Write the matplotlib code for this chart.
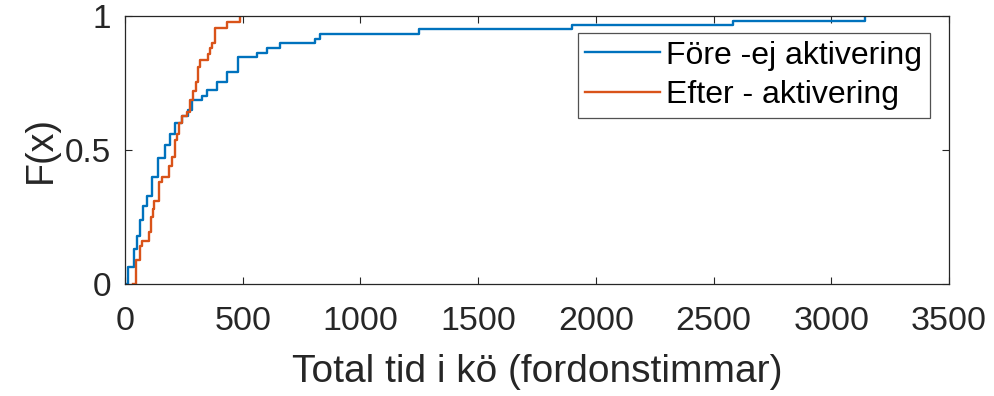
import matplotlib
matplotlib.use("Agg")
import matplotlib.pyplot as plt

plt.rcParams['font.family'] = ['Liberation Sans', 'DejaVu Sans']

fore_x = [4, 14, 38, 49, 64, 78, 92, 113, 141, 170, 191, 212, 241, 268, 283, 326, 347,
          390, 432, 481, 559, 605, 658, 807, 828, 1250, 1898, 2583, 3144]
fore_F = [0, 0.065, 0.13, 0.18, 0.24, 0.29, 0.33, 0.40, 0.47, 0.52, 0.56, 0.60, 0.625,
          0.65, 0.686, 0.70, 0.724, 0.755, 0.79, 0.846, 0.862, 0.88, 0.898, 0.914, 0.933,
          0.951, 0.966, 0.982, 1.0]

efter_x = [35, 48, 62, 72, 101, 111, 118, 124, 146, 156, 188, 198, 214, 221, 228, 241,
           262, 276, 290, 300, 311, 319, 354, 361, 368, 382, 432, 489]
efter_F = [0, 0.09, 0.14, 0.16, 0.195, 0.25, 0.28, 0.31, 0.38, 0.40, 0.44, 0.475, 0.537,
           0.56, 0.60, 0.625, 0.643, 0.687, 0.72, 0.755, 0.81, 0.836, 0.86, 0.88, 0.898,
           0.954, 0.979, 1.0]

labels = ['Före -ej aktivering', 'Efter - aktivering']
xticks = [0, 500, 1000, 1500, 2000, 2500, 3000, 3500]
yticks = [0, 0.5, 1]
ytick_labels = ['0', '0.5', '1']

W, H = 994, 396
fig = plt.figure(figsize=(W / 100, H / 100), dpi=100)
ax = fig.add_axes([125 / W, 1 - 284 / H, (949 - 125) / W, (284 - 16) / H])

ax.plot(fore_x, fore_F, drawstyle='steps-post', color='#0072BD', lw=1.7, label=labels[0])
ax.plot(efter_x, efter_F, drawstyle='steps-post', color='#D95319', lw=1.7, label=labels[1])

ax.set_xlim(0, 3500)
ax.set_ylim(0, 1)
ax.set_xticks(xticks)
ax.set_xticklabels([str(t) for t in xticks], fontsize=24.5)
ax.set_yticks(yticks)
ax.set_yticklabels(ytick_labels, fontsize=24)

edge = '#262626'
for s in ax.spines.values():
    s.set_color(edge)
    s.set_linewidth(0.9)
ax.tick_params(direction='in', length=5, width=0.8, colors=edge,
               top=True, right=True)
ax.tick_params(axis='x', pad=16)
ax.tick_params(axis='y', pad=10)

ax.set_xlabel('Total tid i kö (fordonstimmar)', fontsize=28, color=edge, labelpad=12)
ax.set_ylabel('F(x)', fontsize=27, color=edge, labelpad=4)

leg = ax.legend(loc='upper right', bbox_to_anchor=((930 - 125) / 824, (284 - 33) / 268),
                borderaxespad=0, fontsize=23, frameon=True, fancybox=False,
                handlelength=2.35, handletextpad=0.19, labelspacing=0.3,
                borderpad=0.24)
leg.get_frame().set_edgecolor(edge)
leg.get_frame().set_linewidth(0.9)
for t in leg.get_texts():
    t.set_color('black')

fig.savefig('out.png', dpi=100)
